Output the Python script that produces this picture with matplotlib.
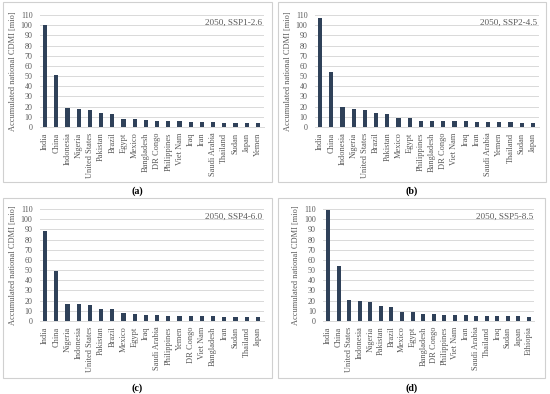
import matplotlib
matplotlib.use("Agg")
import matplotlib.pyplot as plt
from matplotlib.patches import Rectangle

plt.rcParams['font.family'] = ['Liberation Serif', 'DejaVu Serif']

W, H = 550, 394

cats_a = ["India", "China", "Indonesia", "Nigeria", "United States", "Pakistan", "Brazil", "Egypt",
          "Mexico", "Bangladesh", "DR Congo", "Philippines", "Viet Nam", "Iraq", "Iran",
          "Saudi Arabia", "Thailand", "Sudan", "Japan", "Yemen"]
vals_a = [100, 51, 19, 18, 17, 14, 13, 8.2, 8, 6.5, 6.2, 5.7, 5.5, 4.6, 4.5, 4.5, 4.3, 4.2, 4.0, 3.6]

cats_b = ["India", "China", "Indonesia", "Nigeria", "United States", "Brazil", "Pakistan", "Mexico",
          "Egypt", "Philippines", "Bangladesh", "DR Congo", "Viet Nam", "Iraq", "Iran",
          "Saudi Arabia", "Yemen", "Thailand", "Sudan", "Japan"]
vals_b = [107, 54, 20, 18, 17, 13.7, 13.2, 9, 8.5, 6.2, 6.1, 6, 6, 5.5, 5.1, 5, 4.6, 4.5, 4.4, 4.0]

cats_c = ["India", "China", "Nigeria", "Indonesia", "United States", "Pakistan", "Brazil", "Mexico",
          "Egypt", "Iraq", "Saudi Arabia", "Philippines", "Yemen", "DR Congo", "Viet Nam",
          "Bangladesh", "Iran", "Sudan", "Thailand", "Japan"]
vals_c = [88, 49, 17, 16.5, 16, 12, 11.5, 7.5, 7, 5.6, 5.5, 5.4, 5.2, 5, 4.9, 4.5, 4.3, 4.1, 4.0, 3.9]

cats_d = ["India", "China", "United States", "Indonesia", "Nigeria", "Pakistan", "Brazil", "Mexico",
          "Egypt", "Bangladesh", "DR Congo", "Philippines", "Viet Nam", "Iran", "Saudi Arabia",
          "Thailand", "Iraq", "Sudan", "Japan", "Ethiopia"]
vals_d = [109, 54, 21, 20, 19, 15, 14, 8.6, 8.5, 7.2, 7, 6.2, 6, 5.5, 5.2, 5, 4.9, 4.8, 4.6, 4.1]

labels = ["2050, SSP1-2.6", "2050, SSP2-4.5", "2050, SSP4-6.0", "2050, SSP5-8.5"]
captions = ["a", "b", "c", "d"]
yticks = list(range(0, 111, 10))

BAR = "#2f4159"
TXT = "#595959"
GRID = "#d9d9d9"

fig = plt.figure(figsize=(W / 100, H / 100), dpi=100)

def fx(px):
    return px / W

def fy(py):
    return 1 - py / H

# panel geometry in pixel coords: (box l, box t, box r, box b, ax l, ax r, ax top, ax bottom, caption y)
panels = [
    (3, 2, 272, 182, 39.5, 263.5, 15, 127, 191),
    (278, 2, 546, 182, 314.5, 538.5, 15, 127, 191),
    (3, 198, 272, 378, 39.5, 263.5, 209, 321, 388),
    (278, 198, 545, 378, 322.7, 534.3, 209, 321, 388),
]
data = [(cats_a, vals_a), (cats_b, vals_b), (cats_c, vals_c), (cats_d, vals_d)]

for (bl, bt, br, bb, al, ar, at, ab, cy), (cats, vals), lab, cap in zip(panels, data, labels, captions):
    fig.patches.append(Rectangle((fx(bl), fy(bb)), fx(br - bl), (bb - bt) / H,
                                 transform=fig.transFigure, fill=False,
                                 edgecolor="#d0d0d0", linewidth=0.8))
    ax = fig.add_axes([fx(al), fy(ab), fx(ar - al), (ab - at) / H])
    x = list(range(len(cats)))
    ax.bar(x, vals, width=0.38, color=BAR, zorder=3)
    ax.set_xlim(-0.5, len(cats) - 0.5)
    ax.set_ylim(0, 110)
    ax.set_yticks(yticks)
    ax.set_xticks(x)
    ax.set_xticklabels(cats, rotation=90, fontsize=6.0, color=TXT)
    ax.tick_params(axis='y', labelsize=5.8, labelcolor=TXT, length=0, pad=5)
    ax.tick_params(axis='x', length=0, pad=4)
    ax.grid(axis='y', color=GRID, linewidth=0.7, zorder=0)
    for s in ["top", "right", "left"]:
        ax.spines[s].set_visible(False)
    ax.spines["bottom"].set_color(GRID)
    ax.spines["bottom"].set_linewidth(0.7)
    ax.set_ylabel("Accumulated national CDMI [mio]", fontsize=6.0, color=TXT, labelpad=3)
    ax.text(0.995, 0.93, lab, transform=ax.transAxes, ha="right", va="center",
            fontsize=6.6, color=TXT)
    fig.text(fx((bl + br) / 2), fy(cy), "(" + cap + ")", ha="center", va="center",
             fontsize=7.2, fontweight="bold", color="#000000")

fig.savefig("out.png", dpi=100, facecolor="white")
